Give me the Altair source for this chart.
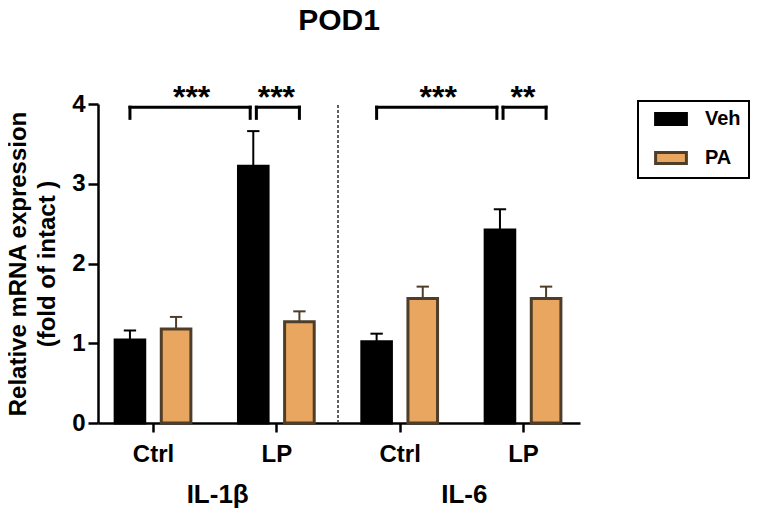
import altair as alt
import pandas as pd

FONT = "Liberation Sans"

# ---- data ----
genes = ["IL-1β", "IL-1β", "IL-6", "IL-6"]
conditions = ["Ctrl", "LP", "Ctrl", "LP"]
series = ["Veh", "PA"]
veh_mean = [1.04, 3.22, 1.02, 2.42]
veh_sem = [0.12, 0.44, 0.10, 0.26]
pa_mean = [1.18, 1.27, 1.56, 1.56]
pa_sem = [0.15, 0.13, 0.15, 0.15]

# significance brackets: (from index, from series) -> (to index, to series), label
comp_from = [(0, "Veh"), (1, "Veh"), (2, "Veh"), (3, "Veh")]
comp_to = [(1, "Veh"), (1, "PA"), (3, "Veh"), (3, "PA")]
sig_labels = ["***", "***", "***", "**"]

# ---- layout parameters ----
OFF = 0.187      # series offset from category centre
HW = 0.12        # half bar width
CAP = 0.05       # half cap width
GAP = 0.025      # gap where two brackets meet
BRACKET_Y = 3.96
LEG = 0.14

def xpos(i, s):
    return i + (-OFF if s == "Veh" else OFF)

rows = []
for i in range(len(conditions)):
    for s, means, sems in (("Veh", veh_mean, veh_sem), ("PA", pa_mean, pa_sem)):
        xc = xpos(i, s)
        rows.append(dict(gene=genes[i], condition=conditions[i], series=s,
                         mean=means[i], upper=means[i] + sems[i],
                         xc=xc, x0=xc - HW, x1=xc + HW,
                         cl=xc - CAP, cr=xc + CAP))
df = pd.DataFrame(rows)

brows = []
for (fi, fs), (ti, ts), lab in zip(comp_from, comp_to, sig_labels):
    xa, xb = xpos(fi, fs), xpos(ti, ts)
    xa2 = xa + (GAP if fs == "Veh" and fi == ti else 0)
    xb2 = xb - (GAP if ts == "Veh" else 0)
    brows.append(dict(xa=xa2, xb=xb2, xm=(xa + xb) / 2, y=BRACKET_Y,
                      ylow=BRACKET_Y - LEG, ys=BRACKET_Y - 0.01, label=lab))
bdf = pd.DataFrame(brows)

gene_names = ["IL-1β", "IL-6"]
gdf = pd.DataFrame({"gene": gene_names,
                    "gx": [sum(i for i, g in enumerate(genes) if g == n) /
                           genes.count(n) for n in gene_names]})

xscale = alt.Scale(domain=[-0.446, 3.462], nice=False, zero=False)
yscale = alt.Scale(domain=[0, 4], nice=False)

label_expr = "[" + ",".join(f"'{c}'" for c in conditions) + "][datum.value]"

legend = alt.Legend(
    title=None, orient="none", legendX=540, legendY=-3,
    strokeColor="black", fillColor="white", padding=8,
    symbolType="M-2.8,-1H2.8V1H-2.8Z", symbolSize=121,
    symbolStrokeWidth=3, symbolOffset=15, labelOffset=24,
    labelFont=FONT, labelFontSize=20, labelFontWeight="bold",
    labelColor="black", rowPadding=15,
)
fill_scale = alt.Scale(domain=series, range=["#000000", "#E9A660"])
stroke_scale = alt.Scale(domain=series, range=["#000000", "#4E3D28"])

divider = alt.Chart(gdf).mark_rule(
    strokeDash=[3, 2], strokeWidth=1.5, color="#555555"
).encode(
    x=alt.datum(1.5, scale=xscale),
    y=alt.datum(0),
    y2=alt.datum(4),
)

err_line = alt.Chart(df).mark_rule(strokeWidth=2).encode(
    x=alt.X("xc:Q", scale=xscale),
    y=alt.Y("mean:Q", scale=yscale),
    y2="upper:Q",
    stroke=alt.Stroke("series:N", scale=stroke_scale, legend=legend),
)
err_cap = alt.Chart(df).mark_rule(strokeWidth=2).encode(
    x=alt.X("cl:Q", scale=xscale),
    x2="cr:Q",
    y=alt.Y("upper:Q", scale=yscale),
    stroke=alt.Stroke("series:N", scale=stroke_scale, legend=legend),
)

bars = alt.Chart(df).mark_bar(strokeWidth=3).encode(
    x=alt.X("x0:Q", scale=xscale,
            axis=alt.Axis(values=[0, 1, 2, 3], labelExpr=label_expr, title=None,
                          tickSize=9, labelPadding=10)),
    x2="x1:Q",
    y=alt.Y("mean:Q", scale=yscale,
            axis=alt.Axis(values=[0, 1, 2, 3, 4], format="d", tickSize=10, labelPadding=3,
                          title=["Relative mRNA expression", "(fold of intact )"],
                          titleLineHeight=29, titlePadding=12)),
    y2=alt.datum(0),
    fill=alt.Fill("series:N", scale=fill_scale, legend=legend),
    stroke=alt.Stroke("series:N", scale=stroke_scale, legend=legend),
)

b_h = alt.Chart(bdf).mark_rule(strokeWidth=3, color="black", strokeCap="square").encode(
    x=alt.X("xa:Q", scale=xscale), x2="xb:Q", y=alt.Y("y:Q", scale=yscale))
b_l = alt.Chart(bdf).mark_rule(strokeWidth=3, color="black", strokeCap="square").encode(
    x=alt.X("xa:Q", scale=xscale), y=alt.Y("y:Q", scale=yscale), y2="ylow:Q")
b_r = alt.Chart(bdf).mark_rule(strokeWidth=3, color="black", strokeCap="square").encode(
    x=alt.X("xb:Q", scale=xscale), y=alt.Y("y:Q", scale=yscale), y2="ylow:Q")
stars = alt.Chart(bdf).mark_text(
    font=FONT, fontSize=32, fontWeight="bold", baseline="alphabetic", color="black"
).encode(x=alt.X("xm:Q", scale=xscale), y=alt.Y("ys:Q", scale=yscale), text="label:N")

glabels = alt.Chart(gdf).mark_text(
    font=FONT, fontSize=26, fontWeight="bold", baseline="alphabetic", color="black", dx=3
).encode(x=alt.X("gx:Q", scale=xscale), y=alt.datum(-1.0), text="gene:N")

chart = alt.layer(divider, err_line, err_cap, bars, b_h, b_l, b_r, stars, glabels).properties(
    width=482, height=319,
    autosize=alt.AutoSizeParams(type="none"),
    padding={"left": 90, "top": 96, "right": 174, "bottom": 85},
    title=alt.Title("POD1", font=FONT, fontSize=30, fontWeight="bold",
                    anchor="middle", frame="group", offset=46, color="black"),
).resolve_scale(x="shared", y="shared").configure_view(stroke=None).configure_axis(
    grid=False, domainColor="black", domainWidth=2.5, tickColor="black", tickWidth=2.5,
    labelFont=FONT, labelFontSize=24, labelFontWeight="bold", labelColor="black",
    titleFont=FONT, titleFontSize=24, titleFontWeight="bold", titleColor="black",
).configure_legend(strokeWidth=2)

chart.save("out.html", embed_options={"renderer": "svg", "actions": False})
